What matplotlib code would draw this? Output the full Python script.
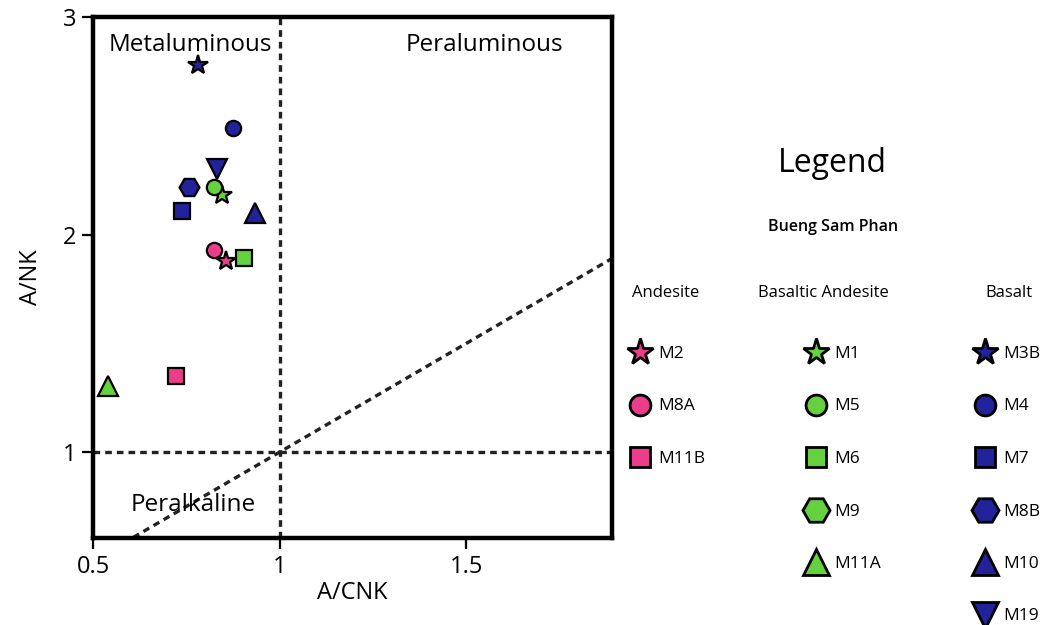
import matplotlib
matplotlib.use('Agg')
import matplotlib.pyplot as plt

plt.rcParams['font.family'] = ['Open Sans', 'DejaVu Sans']

# Bueng Sam Phan samples: A/CNK vs A/NK
andesite_names = ['M2', 'M8A', 'M11B']
andesite_acnk = [0.857, 0.824, 0.722]
andesite_ank = [1.88, 1.93, 1.35]
andesite_markers = ['*', 'o', 's']

bas_andesite_names = ['M1', 'M5', 'M6', 'M9', 'M11A']
bas_andesite_acnk = [0.846, 0.824, 0.905, None, 0.540]
bas_andesite_ank = [2.18, 2.22, 1.89, None, 1.305]
bas_andesite_markers = ['*', 'o', 's', 'H', '^']

basalt_names = ['M3B', 'M4', 'M7', 'M8B', 'M10', 'M19']
basalt_acnk = [0.781, 0.875, 0.739, 0.757, 0.934, 0.832]
basalt_ank = [2.78, 2.49, 2.107, 2.22, 2.10, 2.30]
basalt_markers = ['*', 'o', 's', 'H', '^', 'v']

groups = [
    ('Andesite', andesite_names, andesite_acnk, andesite_ank, andesite_markers, '#ec3d8a'),
    ('Basaltic Andesite', bas_andesite_names, bas_andesite_acnk, bas_andesite_ank,
     bas_andesite_markers, '#66d13f'),
    ('Basalt', basalt_names, basalt_acnk, basalt_ank, basalt_markers, '#22229a'),
]

# relative marker scale so the shapes look about the same size
scale = {'*': 1.35, 'o': 1.0, 's': 1.0, 'H': 1.3, '^': 1.25, 'v': 1.25}

fig = plt.figure(figsize=(10.43, 6.25), dpi=100)
ax = fig.add_axes([0.0892, 0.1392, 0.4976, 0.8336])
ax.set_xlim(0.5, 1.89)
ax.set_ylim(0.605, 3.0)

for sp in ax.spines.values():
    sp.set_linewidth(3.2)
ax.tick_params(direction='out', length=8, width=1.6, labelsize=17, pad=4)
ax.set_xticks([0.5, 1, 1.5])
ax.set_xticklabels(['0.5', '1', '1.5'])
ax.set_yticks([1, 2, 3])
ax.set_xlabel('A/CNK', fontsize=17, labelpad=2)
ax.set_ylabel('A/NK', fontsize=17, labelpad=14)

# field boundaries
dash = dict(color='#222222', lw=2.4, ls=(0, (2.0, 1.5)), zorder=1)
ax.axvline(1, **dash)
ax.axhline(1, **dash)
ax.plot([0.5, 1.89], [0.5, 1.89], **dash)

ax.text(0.76, 2.87, 'Metaluminous', fontsize=17.5, ha='center', va='center')
ax.text(1.548, 2.87, 'Peraluminous', fontsize=17.5, ha='center', va='center')
ax.text(0.768, 0.757, 'Peralkaline', fontsize=17.5, ha='center', va='center')

for title, names, xs, ys, markers, color in groups:
    for n, x, y, m in zip(names, xs, ys, markers):
        if x is None:
            continue
        ax.plot(x, y, marker=m, ms=11 * scale[m], mfc=color, mec='black',
                mew=1.6, ls='none', zorder=3)

# legend panel
lg = fig.add_axes([0, 0, 1, 1])
lg.set_xlim(0, 1043)
lg.set_ylim(625, 0)
lg.set_axis_off()

lg.text(832, 163, 'Legend', fontsize=23, ha='center', va='center')
lg.text(833, 227, 'Bueng Sam Phan', fontsize=11.5, ha='center', va='center',
        fontweight='semibold')

col_marker_x = [640, 816, 985]
col_title_x = [666, 823, 1009]
row_y0, row_dy = 352, 52.5
for (title, names, xs, ys, markers, color), mx, tx in zip(groups, col_marker_x, col_title_x):
    lg.text(tx, 293, title, fontsize=12, ha='center', va='center')
    for i, (n, m) in enumerate(zip(names, markers)):
        yy = row_y0 + i * row_dy
        lg.plot(mx, yy, marker=m, ms=15 * scale[m], mfc=color, mec='black',
                mew=2, ls='none')
        lg.text(mx + 18, yy + 2, n, fontsize=12.5, ha='left', va='center')

fig.savefig('out.png', dpi=100)
